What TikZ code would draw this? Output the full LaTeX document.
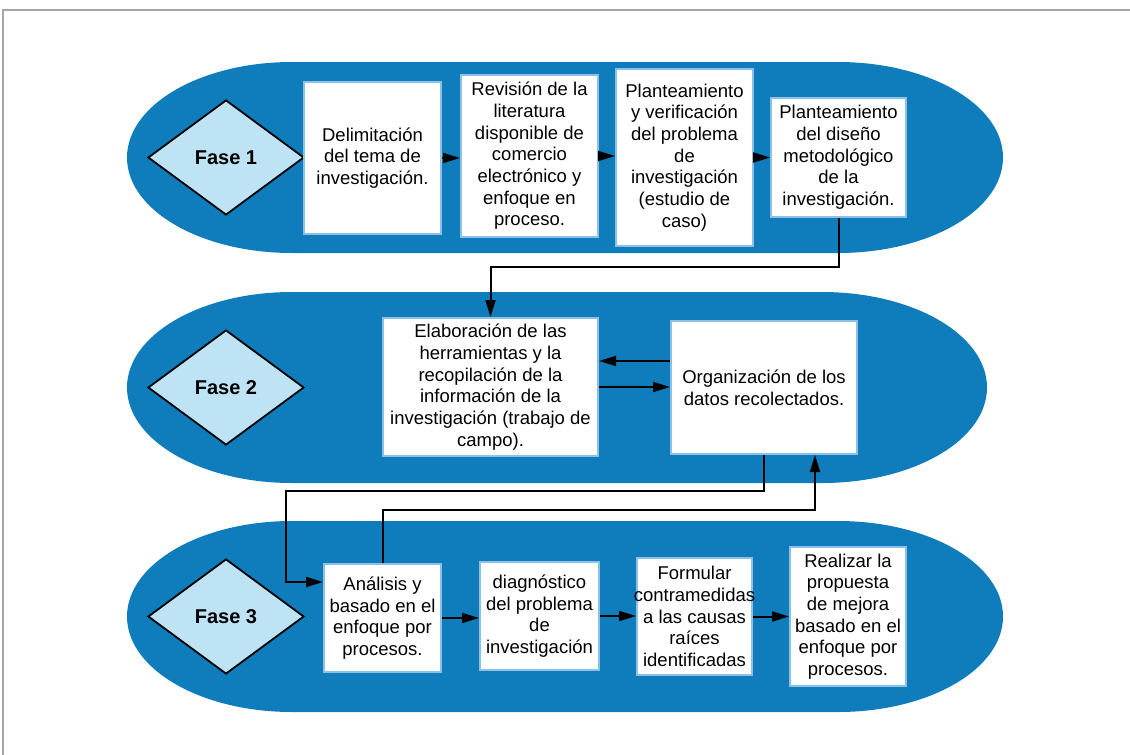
\documentclass[tikz,border=0pt]{standalone}
\usepackage{fontspec}
\setmainfont{Liberation Sans}
\usetikzlibrary{shapes.geometric,arrows.meta}
\definecolor{bandblue}{RGB}{15,124,188}
\definecolor{phasefill}{RGB}{190,227,245}
\definecolor{boxedge}{RGB}{140,192,230}
\definecolor{framegray}{RGB}{165,165,165}

\tikzset{
  band/.style={fill=bandblue},
  phase/.style={diamond, draw=black, line width=1.8pt, fill=phasefill,
    minimum width=156pt, minimum height=115pt, inner sep=0pt,
    font=\fontsize{20}{24}\selectfont\bfseries},
  box/.style={draw=boxedge, line width=2pt, fill=white, inner sep=0pt,
    align=center, font=\fontsize{18.5}{21.7}\selectfont},
  boxtext/.style={inner sep=0pt, align=center, font=\fontsize{18.5}{21.7}\selectfont},
  arr/.style={draw=black, line width=2pt, -{Triangle[length=17pt,width=10pt]}},
}

% rounded band: left x, right x, top y (height 191)
\newcommand\phaseband[3]{%
  \fill[band] (#1+165,#3) -- (#2-165,#3)
    arc[start angle=-90, end angle=90, x radius=165, y radius=95.5]
    -- (#1+165,#3+191)
    arc[start angle=90, end angle=270, x radius=165, y radius=95.5] -- cycle;}

\begin{document}
\begin{tikzpicture}[x=1pt,y=-1pt]
\useasboundingbox (0,0) rectangle (1130,755);
\draw[framegray, line width=1.5pt] (3,755) -- (3,10) -- (1130,10);

% phase bands
\phaseband{127}{1003}{62}
\phaseband{127}{987}{292}
\phaseband{127}{1003}{521}

% phase markers
\node[phase] (d1) at (226,157.5) {Fase 1};
\node[phase] (d2) at (226,387.5) {Fase 2};
\node[phase] (d3) at (226,616.5) {Fase 3};

% phase 1 steps
\node[box, minimum width=137pt, minimum height=152pt] (b1) at (372.5,158)
  {Delimitación\\del tema de\\investigación.};
\node[box, minimum width=137pt, minimum height=162pt] (b2) at (529.5,156)
  {Revisión de la\\literatura\\disponible de\\comercio\\electrónico y\\enfoque en\\proceso.};
\node[box, minimum width=137pt, minimum height=177pt] (b3) at (684.5,157.5)
  {Planteamiento\\y verificación\\del problema\\de\\investigación\\(estudio de\\caso)};
\node[box, minimum width=135pt, minimum height=119pt] (b4) at (838.5,157.5)
  {Planteamiento\\del diseño\\metodológico\\de la\\investigación.};

% phase 2 steps
\node[box, minimum width=215pt, minimum height=138pt] (b5) at (490.5,387)
  {Elaboración de las\\herramientas y la\\recopilación de la\\información de la\\investigación (trabajo de\\campo).};
\node[box, minimum width=186pt, minimum height=133pt] (b6) at (764,387.5)
  {Organización de los\\datos recolectados.};

% phase 3 steps
\node[box, minimum width=117pt, minimum height=108pt] (b7) at (382.5,618)
  {Análisis y\\basado en el\\enfoque por\\procesos.};
\node[box, minimum width=119pt, minimum height=108pt] (b8) at (539.5,616)
  {diagnóstico\\del problema\\de\\investigación};
\node[box, minimum width=115pt, minimum height=117pt] (b9) at (694.5,616.5) {};
\node[boxtext] (b9t) at (b9) {Formular\\contramedidas\\a las causas\\raíces\\identificadas};
\node[box, minimum width=116pt, minimum height=139pt] (b10) at (848,616.5)
  {Realizar la\\propuesta\\de mejora\\basado en el\\enfoque por\\procesos.};

% connectors within phases
\draw[arr] (b1.east) -- (b1.east -| b2.west);
\draw[arr] (b2.east) -- (b2.east -| b3.west);
\draw[arr] (b3.east) -- (b3.east -| b4.west);
\draw[arr] ([yshift=26.5pt]b6.west) -- ([yshift=26.5pt]b6.west -| b5.east);
\draw[arr] (b5.east) -- (b5.east -| b6.west);
\draw[arr] (b7.east) -- (b7.east -| b8.west);
\draw[arr] (b8.east) -- (b8.east -| b9.west);
\draw[arr] (b9.east) -- (b9.east -| b10.west);

% connectors between phases
\coordinate (c1) at (490.5,267);
\coordinate (c4) at (286,491);
\coordinate (c5) at (815,510);
\draw[arr] (b4.south) |- (c1) -- (b5.north);
\draw[arr] (b6.south) |- (c4) |- ([yshift=36pt]b7.west);
\draw[arr] (b7.north) |- (c5) -- ([xshift=51pt]b6.south);
\end{tikzpicture}
\end{document}
